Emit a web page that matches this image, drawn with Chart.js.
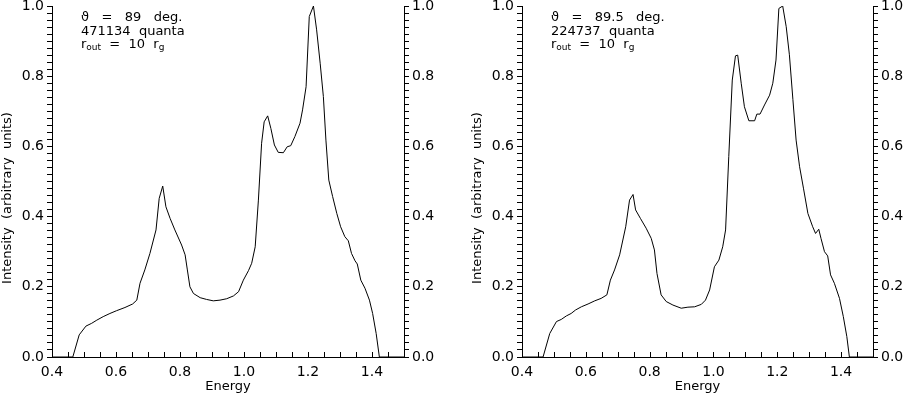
<!DOCTYPE html>
<html>
<head>
<meta charset="utf-8">
<script src="https://cdn.jsdelivr.net/npm/chart.js@4.4.1/dist/chart.umd.min.js"></script>
<style>
    html, body { margin: 0; padding: 0; background: #fff; }
    #wrap { position: relative; width: 903px; height: 394px; overflow: hidden; }
    canvas { position: absolute; top: 0; }
</style>
</head>
<body>
<div id="wrap">
    <canvas id="left" width="451" height="394" style="left:0"></canvas>
    <canvas id="right" width="452" height="394" style="left:451px"></canvas>
</div>
<script>
// left panel: theta = 89 deg
const energyA = [0.40, 0.465, 0.485, 0.506, 0.524, 0.54, 0.56, 0.581, 0.602, 0.628, 0.652, 0.665,
    0.675, 0.69, 0.706, 0.725, 0.735, 0.746, 0.756, 0.769, 0.784, 0.805, 0.816, 0.823, 0.831,
    0.842, 0.863, 0.883, 0.904, 0.925, 0.946, 0.967, 0.983, 0.998, 1.014, 1.024, 1.035, 1.045,
    1.055, 1.063, 1.074, 1.084, 1.095, 1.107, 1.123, 1.135, 1.146, 1.159, 1.175, 1.183, 1.194,
    1.204, 1.217, 1.227, 1.238, 1.248, 1.256, 1.265, 1.277, 1.29, 1.302, 1.315, 1.326, 1.336,
    1.347, 1.354, 1.365, 1.378, 1.392, 1.402, 1.413, 1.423, 1.50];
const intensityA = [0, 0, 0.063, 0.088, 0.096, 0.105, 0.115, 0.124, 0.132, 0.141, 0.151, 0.162,
    0.21, 0.248, 0.295, 0.362, 0.452, 0.487, 0.428, 0.395, 0.362, 0.319, 0.291, 0.248, 0.2,
    0.181, 0.169, 0.164, 0.16, 0.162, 0.166, 0.174, 0.186, 0.219, 0.246, 0.267, 0.314, 0.447,
    0.609, 0.67, 0.687, 0.651, 0.604, 0.583, 0.582, 0.599, 0.602, 0.628, 0.666, 0.704, 0.77,
    0.97, 1.0, 0.932, 0.837, 0.742, 0.618, 0.504, 0.457, 0.409, 0.371, 0.343, 0.331, 0.295,
    0.274, 0.265, 0.219, 0.196, 0.162, 0.124, 0.067, 0, 0];

// right panel: theta = 89.5 deg
const energyB = [0.40, 0.466, 0.487, 0.508, 0.523, 0.539, 0.554, 0.568, 0.586, 0.607, 0.628, 0.648,
    0.666, 0.677, 0.69, 0.706, 0.725, 0.737, 0.748, 0.756, 0.771, 0.789, 0.805, 0.815, 0.823,
    0.836, 0.852, 0.873, 0.899, 0.92, 0.941, 0.962, 0.975, 0.988, 1.003, 1.017, 1.029, 1.038,
    1.048, 1.059, 1.069, 1.076, 1.087, 1.097, 1.111, 1.129, 1.136, 1.146, 1.16, 1.176, 1.186,
    1.196, 1.205, 1.217, 1.228, 1.238, 1.249, 1.259, 1.27, 1.282, 1.296, 1.311, 1.32, 1.33,
    1.337, 1.348, 1.358, 1.367, 1.379, 1.395, 1.407, 1.418, 1.426, 1.50];
const intensityB = [0, 0, 0.067, 0.101, 0.107, 0.117, 0.124, 0.134, 0.143, 0.151, 0.16, 0.167,
    0.177, 0.219, 0.248, 0.291, 0.371, 0.447, 0.463, 0.419, 0.395, 0.367, 0.338, 0.305, 0.238,
    0.177, 0.158, 0.148, 0.139, 0.142, 0.143, 0.15, 0.162, 0.191, 0.257, 0.276, 0.314, 0.362,
    0.571, 0.789, 0.858, 0.86, 0.78, 0.713, 0.673, 0.673, 0.692, 0.692, 0.718, 0.746, 0.78,
    0.846, 0.993, 1.0, 0.941, 0.861, 0.733, 0.618, 0.542, 0.481, 0.409, 0.371, 0.352, 0.364,
    0.338, 0.3, 0.288, 0.234, 0.21, 0.167, 0.115, 0.058, 0, 0];

const xMajorLabels = [0.4, 0.6, 0.8, 1.0, 1.2, 1.4];
const yMajorLabels = [0.0, 0.2, 0.4, 0.6, 0.8, 1.0];

const tickFont = { family: '"DejaVu Sans"', size: 14 };

function isMajor(list, v) {
    return list.some(m => Math.abs(m - v) < 1e-6);
}

// text block in the upper left corner, rotated y title, inward x ticks
const annotate = {
    id: 'annotate',
    afterDraw(chart, args, opts) {
        const { ctx, chartArea } = chart;
        ctx.save();

        // x ticks point up into the plot
        const xs = chart.scales.x;
        ctx.strokeStyle = '#000';
        ctx.lineWidth = 1;
        ctx.beginPath();
        xs.ticks.forEach(t => {
            const px = Math.round(xs.getPixelForValue(t.value)) + 0.5;
            ctx.moveTo(px, chartArea.bottom);
            ctx.lineTo(px, chartArea.bottom - 5);
        });
        ctx.stroke();

        ctx.fillStyle = '#000';
        ctx.textBaseline = 'alphabetic';
        ctx.textAlign = 'left';
        const x = chartArea.left + 29;
        ctx.font = '13px "DejaVu Sans"';
        ctx.fillText('\u03D1   =   ' + opts.angle + '   deg.', x, 21);
        ctx.fillText(opts.quanta + '  quanta', x, 34.5);
        // r_out = 10 r_g
        let cx = x;
        ctx.fillText('r', cx, 48);
        cx += ctx.measureText('r').width;
        ctx.font = '9px "DejaVu Sans"';
        ctx.fillText('out', cx, 50);
        cx += ctx.measureText('out').width;
        ctx.font = '13px "DejaVu Sans"';
        const mid = '  =  10  r';
        ctx.fillText(mid, cx, 48);
        cx += ctx.measureText(mid).width;
        ctx.font = '9px "DejaVu Sans"';
        ctx.fillText('g', cx, 50);

        ctx.translate(opts.titleX, 198);
        ctx.rotate(-Math.PI / 2);
        ctx.textAlign = 'center';
        ctx.textBaseline = 'middle';
        ctx.font = '13px "DejaVu Sans"';
        ctx.fillText('Intensity  (arbitrary  units)', 0, 0);
        ctx.restore();
    }
};

function yAxis(position, width) {
    return {
        type: 'linear',
        position: position,
        min: 0,
        max: 1,
        grid: { drawOnChartArea: false, drawTicks: true, tickLength: 5, color: '#000' },
        border: { color: '#000', width: 1 },
        ticks: {
            stepSize: 0.02,
            autoSkip: false,
            padding: 3,
            color: '#000',
            font: tickFont,
            callback: v => isMajor(yMajorLabels, v) ? v.toFixed(1) : ''
        },
        afterFit: s => { s.width = width; s.paddingTop = 0; s.paddingBottom = 0; }
    };
}

function makeChart(id, energy, intensity, leftW, rightW, angle, quanta, titleX) {
    const points = energy.map((e, i) => ({ x: e, y: intensity[i] }));
    return new Chart(document.getElementById(id), {
        type: 'line',
        data: {
            datasets: [{
                data: points,
                borderColor: '#000',
                borderWidth: 1,
                pointRadius: 0,
                tension: 0,
                fill: false
            }]
        },
        options: {
            responsive: false,
            animation: false,
            events: [],
            layout: { padding: { top: 6, bottom: 0, left: 0, right: 0 } },
            plugins: {
                legend: { display: false },
                tooltip: { enabled: false },
                annotate: { angle: angle, quanta: quanta, titleX: titleX }
            },
            scales: {
                x: {
                    type: 'linear',
                    min: 0.4,
                    max: 1.5,
                    grid: { drawOnChartArea: false, drawTicks: false },
                    border: { color: '#000', width: 1 },
                    ticks: {
                        stepSize: 0.05,
                        autoSkip: false,
                        maxRotation: 0,
                        padding: 7,
                        color: '#000',
                        font: tickFont,
                        callback: v => isMajor(xMajorLabels, v) ? v.toFixed(1) : ''
                    },
                    title: {
                        display: true,
                        text: 'Energy',
                        color: '#000',
                        font: { family: '"DejaVu Sans"', size: 13 },
                        padding: 0
                    },
                    afterFit: s => { s.height = 37; s.paddingLeft = 0; s.paddingRight = 0; }
                },
                y: yAxis('left', leftW),
                y2: yAxis('right', rightW)
            }
        },
        plugins: [annotate]
    });
}

makeChart('left', energyA, intensityA, 52, 47, '89', '471134', 8);
makeChart('right', energyB, intensityB, 71, 30, '89.5', '224737', 27);
</script>
</body>
</html>
